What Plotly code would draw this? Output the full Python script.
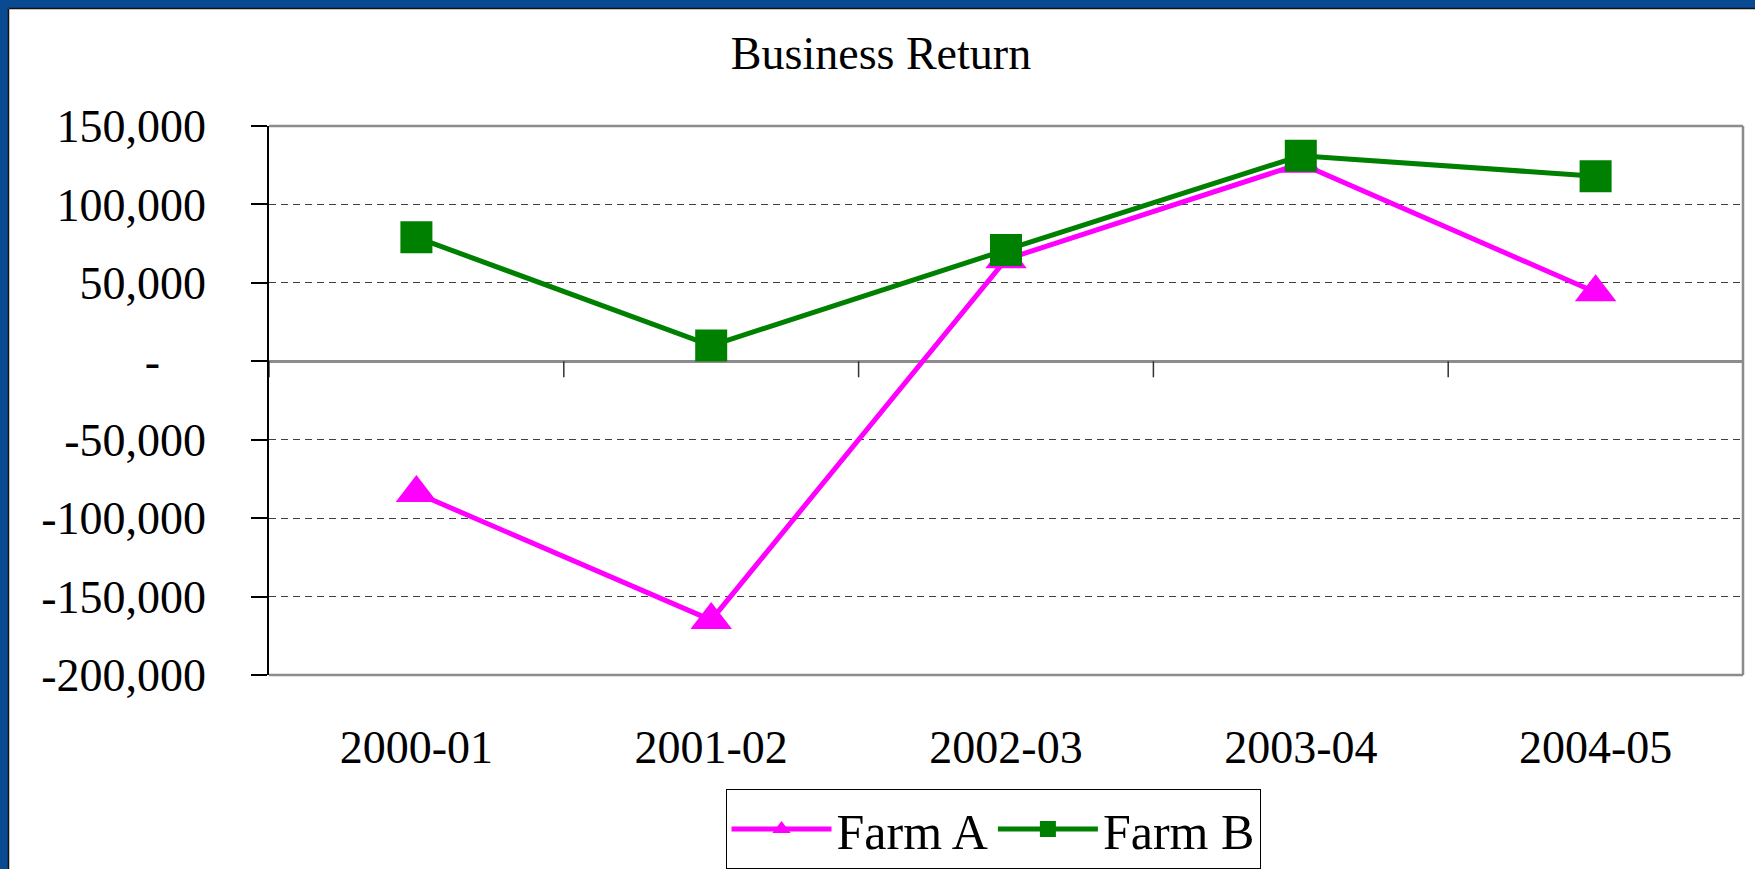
import plotly.graph_objects as go

categories = ["2000-01", "2001-02", "2002-03", "2003-04", "2004-05"]
farm_a = [-84000, -165000, 65000, 126000, 44000]
farm_b = [79000, 10000, 71000, 131000, 118000]
y_tickvals = [150000, 100000, 50000, 0, -50000, -100000, -150000, -200000]
y_ticktext = ["150,000", "100,000", "50,000", "-\u00a0\u00a0\u00a0\u00a0",
              "-50,000", "-100,000", "-150,000", "-200,000"]

W, H = 1755, 869
L, R, T, B = 269, 12, 126, 194
PW, PH = W - L - R, H - T - B

def px_x(p):
    return (p - L) / PW

def px_y(p):
    return (H - B - p) / PH

FONT = "Liberation Serif, Times New Roman, serif"
BLUE = "#0A4A92"
GRAY = "#8C8C8C"

fig = go.Figure()
fig.add_trace(go.Scatter(
    x=categories, y=farm_a, name="Farm A", mode="lines+markers",
    line=dict(color="#FF00FF", width=5),
    marker=dict(symbol="triangle-up", size=36, color="#FF00FF"),
))
fig.add_trace(go.Scatter(
    x=categories, y=farm_b, name="Farm B", mode="lines+markers",
    line=dict(color="#008000", width=5),
    marker=dict(symbol="square", size=32, color="#008000"),
))

shapes = []
# category boundary ticks on the zero line
for i in range(len(categories) + 1):
    shapes.append(dict(type="line", xref="x", yref="y", x0=i - 0.5, x1=i - 0.5,
                       ysizemode="pixel", yanchor=0, y0=0, y1=-16,
                       line=dict(color="#333333", width=1.5)))
# plot area border (top, right, bottom)
shapes += [
    dict(type="line", xref="paper", yref="paper", x0=0, x1=1, y0=1, y1=1,
         line=dict(color=GRAY, width=2.5)),
    dict(type="line", xref="paper", yref="paper", x0=1, x1=1, y0=0, y1=1,
         line=dict(color=GRAY, width=2.5)),
    dict(type="line", xref="paper", yref="paper", x0=0, x1=1, y0=0, y1=0,
         line=dict(color=GRAY, width=2.5)),
]
# blue frame on left and top
shapes += [
    dict(type="rect", xref="paper", yref="paper", x0=px_x(0), x1=px_x(8),
         y0=px_y(H), y1=px_y(0), fillcolor=BLUE, line=dict(width=0)),
    dict(type="rect", xref="paper", yref="paper", x0=px_x(0), x1=px_x(W),
         y0=px_y(8), y1=px_y(0), fillcolor=BLUE, line=dict(width=0)),
    dict(type="line", xref="paper", yref="paper", x0=px_x(8.5), x1=px_x(8.5),
         y0=px_y(H), y1=px_y(8.5), line=dict(color="#111111", width=1.5)),
    dict(type="line", xref="paper", yref="paper", x0=px_x(8.5), x1=px_x(W),
         y0=px_y(8.5), y1=px_y(8.5), line=dict(color="#111111", width=1.5)),
]

fig.update_layout(
    width=W, height=H,
    margin=dict(l=L, r=R, t=T, b=B, autoexpand=False),
    paper_bgcolor="white", plot_bgcolor="white",
    font=dict(family=FONT, color="black"),
    title=dict(text="Business Return", x=881 / W, xref="container", xanchor="center",
               y=1 - 53 / H, yref="container", yanchor="middle",
               font=dict(family=FONT, size=46, color="black")),
    shapes=shapes,
    showlegend=True,
    legend=dict(orientation="h", x=px_x(993), xanchor="center", y=px_y(789), yanchor="top",
                bordercolor="black", borderwidth=1, bgcolor="white",
                font=dict(family=FONT, size=50, color="black"),
                itemwidth=100, tracegroupgap=0),
    xaxis=dict(type="category", range=[-0.5, len(categories) - 0.5],
               showgrid=False, zeroline=False, showline=False, ticks="",
               automargin=False,
               tickfont=dict(family=FONT, size=46, color="black"),
               ticklabelstandoff=41),
    yaxis=dict(range=[-200000, 150000], tickvals=y_tickvals, ticktext=y_ticktext,
               automargin=False,
               showgrid=True, gridcolor="#404040", gridwidth=1, griddash="7px,5px",
               zeroline=True, zerolinecolor=GRAY, zerolinewidth=2.5,
               showline=True, linecolor="black", linewidth=1.5,
               ticks="outside", ticklen=16, tickcolor="black", tickwidth=1.5,
               tickfont=dict(family=FONT, size=46, color="black"),
               ticklabelstandoff=36),
)

fig.write_html(
    "out.html",
    config={"displayModeBar": False},
    post_script="document.body.style.margin='0';document.body.style.overflow='hidden';",
)
